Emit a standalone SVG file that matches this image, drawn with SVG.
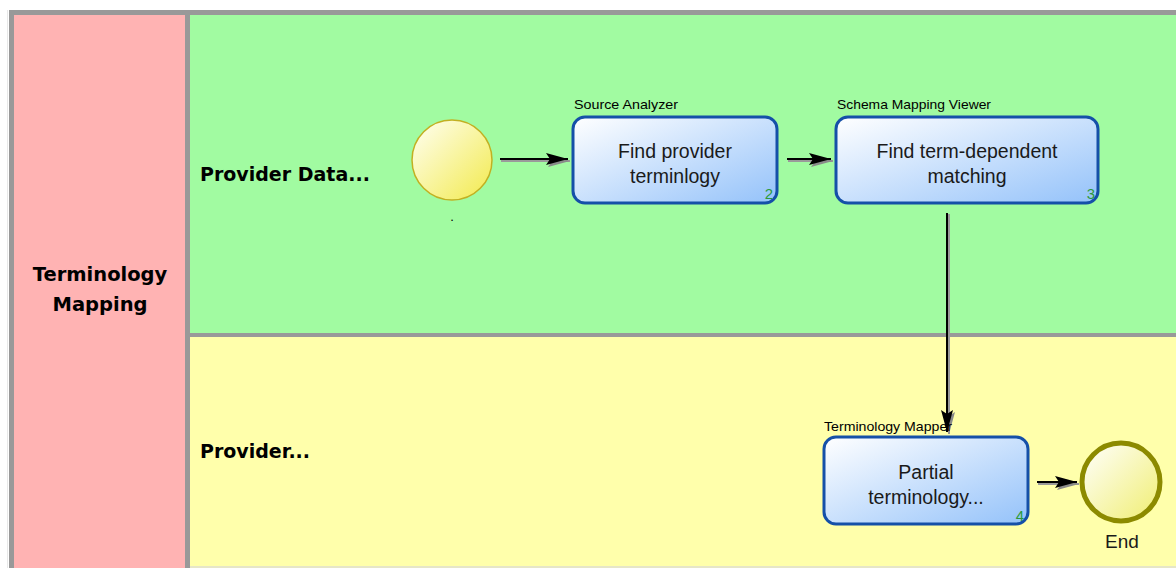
<svg xmlns="http://www.w3.org/2000/svg" width="1176" height="568" viewBox="0 0 1176 568">
<defs>
<linearGradient id="gTask" x1="0" y1="0" x2="1" y2="1">
<stop offset="0" stop-color="#ffffff"/>
<stop offset="1" stop-color="#94c2fa"/>
</linearGradient>
<linearGradient id="gStart" x1="0" y1="0" x2="1" y2="1">
<stop offset="0" stop-color="#fffff4"/>
<stop offset="1" stop-color="#f2ea4c"/>
</linearGradient>
<linearGradient id="gEnd" x1="0" y1="0" x2="1" y2="1">
<stop offset="0" stop-color="#ffffff"/>
<stop offset="1" stop-color="#f0ee70"/>
</linearGradient>
<marker id="arr" viewBox="0 0 22 14" refX="22" refY="7" markerWidth="22" markerHeight="14" markerUnits="userSpaceOnUse" orient="auto">
<path d="M0,1 L22,7 L0,13 L4,7 Z" fill="#000"/>
</marker>
<marker id="arrS" viewBox="0 0 22 14" refX="22" refY="7" markerWidth="22" markerHeight="14" markerUnits="userSpaceOnUse" orient="auto">
<path d="M0,1 L22,7 L0,13 L4,7 Z" fill="#8a8a8a"/>
</marker>
</defs>
<style>
.lane{font-family:"DejaVu Sans",sans-serif;font-weight:bold;font-size:19px;fill:#000}
.task{fill:url(#gTask);stroke:#1550a8;stroke-width:3}
.tt{font-family:"Liberation Sans",Arial,sans-serif;font-size:19.5px;fill:#1a1a1a;text-anchor:middle}
.perf{font-family:"Liberation Sans",Arial,sans-serif;font-size:13px;fill:#000}
.num{font-family:"Liberation Sans",Arial,sans-serif;font-size:15px;fill:#2e9a3a;text-anchor:end}
.conn{stroke:#000;stroke-width:2;fill:none}
.shad{stroke:#9a9a9a;stroke-width:2;fill:none}
</style>
<rect width="1176" height="568" fill="#ffffff"/>
<g id="pool">
<rect x="7" y="10" width="1" height="558" fill="#e8e8e8"/>
<rect x="9" y="10" width="1167" height="558" fill="#999999"/>
<rect x="14" y="15" width="171" height="553" fill="#ffb3b3"/>
<text class="lane" x="100" y="281" text-anchor="middle" style="font-size:19.5px">Terminology</text>
<text class="lane" x="100" y="311" text-anchor="middle" style="font-size:19.5px">Mapping</text>
</g>
<g id="lane1">
<rect x="190" y="15" width="986" height="318" fill="#a1fba1"/>
<text class="lane" x="200" y="181">Provider Data...</text>
</g>
<g id="lane2">
<rect x="190" y="337" width="986" height="231" fill="#ffffab"/>
<rect x="190" y="566" width="986" height="2" fill="#e6e6c8"/>
<text class="lane" x="200" y="458">Provider...</text>
</g>
<g id="connectors">
<line class="shad" x1="501" y1="161" x2="570" y2="161" marker-end="url(#arrS)"/>
<line class="conn" x1="500" y1="159" x2="568" y2="159" marker-end="url(#arr)"/>
<line class="shad" x1="788" y1="161" x2="833" y2="161" marker-end="url(#arrS)"/>
<line class="conn" x1="787" y1="159" x2="831" y2="159" marker-end="url(#arr)"/>
<line class="shad" x1="949" y1="214" x2="949" y2="434" marker-end="url(#arrS)"/>
<line class="conn" x1="947" y1="213" x2="947" y2="432" marker-end="url(#arr)"/>
<line class="shad" x1="1038" y1="484" x2="1079" y2="484" marker-end="url(#arrS)"/>
<line class="conn" x1="1037" y1="482" x2="1077" y2="482" marker-end="url(#arr)"/>
</g>
<g id="start">
<circle cx="452" cy="160" r="40" fill="url(#gStart)" stroke="#c2b022" stroke-width="1.5"/>
<text class="perf" x="452" y="221" text-anchor="middle">.</text>
</g>
<g id="task2">
<text class="perf" x="574" y="109" textLength="104" lengthAdjust="spacingAndGlyphs">Source Analyzer</text>
<rect class="task" x="573" y="117" width="204" height="86" rx="12"/>
<text class="tt" x="675" y="158">Find provider</text>
<text class="tt" x="675" y="183">terminlogy</text>
<text class="num" x="773" y="199">2</text>
</g>
<g id="task3">
<text class="perf" x="837" y="109" textLength="154" lengthAdjust="spacingAndGlyphs">Schema Mapping Viewer</text>
<rect class="task" x="836" y="117" width="262" height="86" rx="12"/>
<text class="tt" x="967" y="158">Find term-dependent</text>
<text class="tt" x="967" y="183">matching</text>
<text class="num" x="1095" y="199">3</text>
</g>
<g id="task4">
<text class="perf" x="824" y="431" textLength="128" lengthAdjust="spacingAndGlyphs">Terminology Mapper</text>
<rect class="task" x="824" y="437" width="204" height="87" rx="12"/>
<text class="tt" x="926" y="479">Partial</text>
<text class="tt" x="926" y="504">terminology...</text>
<text class="num" x="1024" y="521">4</text>
</g>
<g id="end">
<circle cx="1121" cy="482" r="39" fill="url(#gEnd)" stroke="#8c8a00" stroke-width="5"/>
<text class="tt" x="1122" y="548" style="font-size:19px">End</text>
</g>
</svg>
